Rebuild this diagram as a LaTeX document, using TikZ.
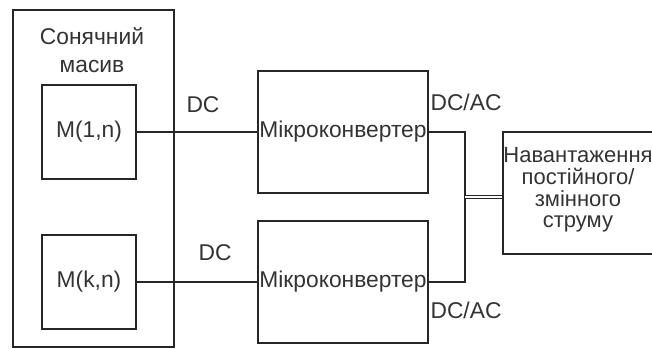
\documentclass[tikz,border=0pt]{standalone}
\usepackage{fontspec}
\setmainfont{Liberation Sans}

\begin{document}
\begin{tikzpicture}[x=1pt, y=-1pt,
    % Define a style for the boxes
    block/.style={rectangle, draw=black!85, line width=0.9pt, inner sep=0pt, text=black!80,
        font=\fontsize{11.4}{10.9}\selectfont},
    % Define a style for the texts on the wires
    tag/.style={inner sep=0pt, text=black!80, font=\fontsize{11.4}{10.9}\selectfont},
    % Define a style for the wires
    wire/.style={draw=black!85, line width=0.9pt}
]
    \useasboundingbox (0,0) rectangle (326,174);
    \clip (0,0) rectangle (326,174);

    % The solar array frame and its name
    \node[block, minimum width=80.5pt, minimum height=168.5pt] (array) at (46.75,89.25) {};
    \node[tag, align=center, font=\fontsize{11.4}{14}\selectfont] (arrayname) at (46,25) {Сонячний\\масив};

    % Place the modules and the microconverters with a foreach loop
    \foreach \i/\idx/\y in {1/1/66, 2/k/141} {
        \node[block, minimum width=47pt, minimum height=47pt] (mod\i) at (44.5,\y) {M(\idx,n)};
        \node[block, minimum width=85pt, minimum height=61pt] (conv\i) at (171.5,\y) {Мікроконвертер};
    }

    % The load, its text sits a little above the middle
    \node[block, minimum width=75pt, minimum height=61pt,
        label={[tag, align=center, font=\fontsize{11}{10.9}\selectfont, yshift=1.5pt]center:Навантаження\\постійного/\\змінного\\струму}]
        (load) at (289,96.5) {};

    % Texts on the wires
    \node[tag] (dc1) at (101.5,52.5) {DC};
    \node[tag] (dc2) at (107.5,126.5) {DC};
    \node[tag] (dcac1) at (233,51.25) {DC/AC};
    \node[tag] (dcac2) at (233,155.25) {DC/AC};

    % Wires
    \coordinate (bus) at (232.5,98.5);
    \draw[wire] (mod1) -- (conv1);
    \draw[wire] (mod2) -- (conv2);
    \draw[wire] (conv1.east) -| (bus) |- (conv2.east);
    \draw[wire, line width=0.6pt, double, double distance=0.9pt] (bus) -- (bus -| load.west);

\end{tikzpicture}
\end{document}
